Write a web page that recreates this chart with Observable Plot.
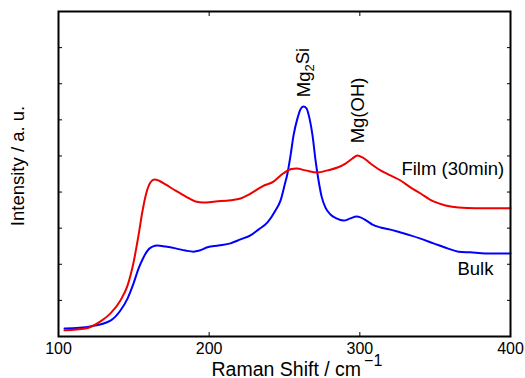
<!DOCTYPE html>
<html>
<head>
<meta charset="utf-8">
<script src="https://cdn.jsdelivr.net/npm/d3@7"></script>
<script src="https://cdn.jsdelivr.net/npm/@observablehq/plot@0.6"></script>
<style>
  html, body { margin: 0; padding: 0; background: #fff; }
  #chart { width: 525px; height: 378px; }
</style>
</head>
<body>
<div id="chart"></div>
<script>
// Raman shift (cm^-1) and intensity (a.u.)
const filmX = [104.0, 117.9, 127.9, 134.5, 141.1, 145.8, 149.8, 153.1, 155.8, 158.4, 161.1, 163.7, 166.4, 171.0, 177.7, 184.3, 190.9, 196.2, 204.2, 214.2, 220.8, 225.4, 230.7, 235.4, 242.7, 249.3, 254.0, 258.0, 263.9, 271.9, 278.5, 285.2, 290.5, 295.1, 298.4, 301.8, 307.1, 313.7, 320.3, 327.0, 333.6, 340.3, 348.9, 356.9, 365.5, 376.8, 400.0];
const filmY = [0.17, 0.22, 0.42, 0.64, 1.00, 1.41, 2.05, 2.80, 3.49, 3.99, 4.27, 4.35, 4.32, 4.21, 4.04, 3.88, 3.74, 3.71, 3.74, 3.77, 3.82, 3.91, 4.04, 4.16, 4.29, 4.52, 4.63, 4.65, 4.60, 4.54, 4.60, 4.68, 4.79, 4.93, 5.01, 4.96, 4.79, 4.60, 4.46, 4.32, 4.13, 3.96, 3.74, 3.63, 3.57, 3.55, 3.55];

const bulkX = [104.0, 121.2, 134.5, 141.1, 145.8, 149.8, 153.1, 156.4, 159.7, 162.4, 165.7, 171.0, 177.7, 184.3, 189.6, 193.6, 198.9, 206.2, 214.2, 220.8, 227.4, 232.7, 238.7, 244.0, 247.4, 250.0, 252.0, 254.0, 256.0, 258.6, 260.6, 262.6, 264.6, 266.6, 268.6, 270.6, 272.6, 274.6, 277.2, 280.5, 284.5, 289.2, 293.8, 297.8, 300.4, 304.4, 308.4, 313.7, 320.3, 327.0, 333.6, 340.3, 348.9, 358.2, 365.5, 373.4, 383.4, 400.0];
const bulkY = [0.22, 0.28, 0.44, 0.72, 1.05, 1.47, 1.88, 2.19, 2.41, 2.49, 2.52, 2.49, 2.44, 2.38, 2.35, 2.38, 2.47, 2.52, 2.58, 2.69, 2.80, 2.96, 3.16, 3.49, 3.77, 4.18, 4.52, 5.01, 5.57, 6.04, 6.29, 6.37, 6.32, 6.04, 5.57, 4.88, 4.32, 3.88, 3.57, 3.38, 3.27, 3.21, 3.27, 3.32, 3.30, 3.21, 3.10, 3.02, 2.96, 2.88, 2.80, 2.71, 2.58, 2.44, 2.35, 2.33, 2.30, 2.30];

const xTicks = [100, 200, 300, 400];
const xTopTicks = [200, 300];
const yTicks = [1, 2, 3, 4, 5, 6, 7, 8];

const xLabel = "Raman Shift / cm-1";
const yLabel = "Intensity / a. u.";

// annotations: text, x, y
const peakLabels = ["Mg2Si", "Mg(OH)"];
const peakX = [263.3, 299.1];
const peakY = [7.31, 6.26];
const seriesLabels = ["Film (30min)", "Bulk"];
const seriesLabelX = [327.6, 364.8];
const seriesLabelY = [4.65, 1.86];

const film = filmX.map((x, i) => ({x, y: filmY[i]}));
const bulk = bulkX.map((x, i) => ({x, y: bulkY[i]}));
const peaks = peakLabels.map((t, i) => ({t, x: peakX[i], y: peakY[i]}));
const series = seriesLabels.map((t, i) => ({t, x: seriesLabelX[i], y: seriesLabelY[i]}));

const chart = Plot.plot({
  width: 525,
  height: 378,
  marginLeft: 58,
  marginRight: 15,
  marginTop: 11,
  marginBottom: 42,
  style: {fontFamily: "'Liberation Sans', Arial, sans-serif", fontSize: "16px", background: "#fff", color: "#000"},
  x: {domain: [100, 400]},
  y: {domain: [0, 9]},
  marks: [
    Plot.axisX(xTicks, {anchor: "bottom", tickSize: -4, tickPadding: 10, fontSize: 16, label: null, tickFormat: d => String(d)}),
    Plot.axisX(xTopTicks, {anchor: "top", tickSize: -4, label: null, tickFormat: () => ""}),
    Plot.axisY(yTicks, {anchor: "left", tickSize: -4, label: null, tickFormat: () => ""}),
    Plot.axisY(yTicks, {anchor: "right", tickSize: -4, label: null, tickFormat: () => ""}),
    Plot.line(bulk, {x: "x", y: "y", stroke: "#0000ff", strokeWidth: 2, curve: "monotone-x"}),
    Plot.line(film, {x: "x", y: "y", stroke: "#ee0000", strokeWidth: 2, curve: "monotone-x"}),
    Plot.text(peaks, {x: "x", y: "y", text: "t", rotate: -90, fontSize: 18.5, fill: "#000"}),
    Plot.text(series, {x: "x", y: "y", text: "t", textAnchor: "start", fontSize: 18.5, fill: "#000"}),
    Plot.text([xLabel], {frameAnchor: "bottom", text: d => d, textAnchor: "start", lineAnchor: "middle", dx: -73, dy: 33, fontSize: 19.5, fill: "#000"}),
    Plot.text([yLabel], {frameAnchor: "left", text: d => d, rotate: -90, textAnchor: "middle", lineAnchor: "middle", dx: -40, dy: -8, fontSize: 18.5, fill: "#000"}),
    Plot.frame({stroke: "#000", strokeWidth: 2})
  ]
});

document.getElementById("chart").appendChild(chart);

// subscript / superscript formatting
d3.select(chart).selectAll("text").each(function() {
  const el = d3.select(this);
  const s = el.text();
  if (s === "Mg2Si") {
    el.text("");
    el.append("tspan").text("Mg");
    el.append("tspan").attr("dy", "0.3em").attr("font-size", "13px").text("2");
    el.append("tspan").attr("dy", "-0.3em").text("Si");
  } else if (s === xLabel) {
    el.text("");
    el.append("tspan").text("Raman Shift / cm");
    el.append("tspan").attr("dx", "3").attr("dy", "-10").attr("font-size", "16px").text("\u22121");
  }
});
</script>
</body>
</html>
